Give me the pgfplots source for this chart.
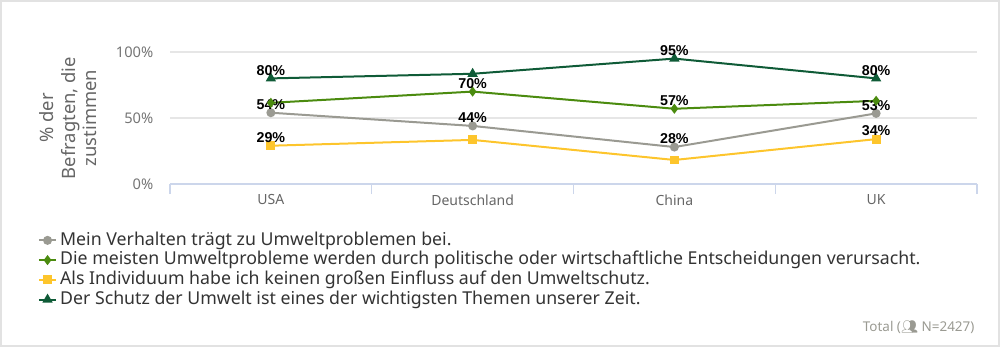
\documentclass[border=0pt]{standalone}
\usepackage{pgfplots}
\pgfplotsset{compat=1.18}
\usepackage{fontspec}
\setmainfont{Noto Sans}
\newfontfamily\emoji{Noto Emoji}
\newfontfamily\labfont{Liberation Sans}
\definecolor{cgray}{HTML}{9A9A92}
\definecolor{clgreen}{HTML}{4B8B0F}
\definecolor{cyellow}{HTML}{FDC52C}
\definecolor{cdgreen}{HTML}{0F5B37}
\definecolor{txtgray}{HTML}{666666}
\definecolor{axisc}{HTML}{CCD6EB}
\definecolor{gridc}{HTML}{E6E6E6}
\definecolor{framec}{HTML}{E2E2E2}
\begin{document}
\begin{tikzpicture}
\useasboundingbox (0,0) rectangle (750pt,260.25pt);
\draw[framec, line width=1.5pt] (0.75pt,0.75pt) rectangle (749.25pt,259.5pt);
\begin{axis}[
  at={(127.5pt,122.25pt)}, anchor=south west,
  scale only axis, width=605.25pt, height=99pt,
  xmin=-0.5, xmax=3.5, ymin=0, ymax=100,
  axis x line*=bottom, axis y line*=left,
  x axis line style={draw=axisc, line width=0.8pt, -},
  y axis line style={draw=none},
  xtick={0,1,2,3}, xticklabels={USA,Deutschland,China,UK},
  major tick length=0pt,
  extra x ticks={-0.5,0.5,1.5,2.5,3.5}, extra x tick labels={},
  extra x tick style={major tick length=7.5pt, tick align=outside, tick style={draw=axisc, line width=0.8pt}, grid=none},
  xticklabel style={font=\fontsize{10.5}{12}\selectfont, text=txtgray},
  xticklabel shift=4.5pt,
  ytick={0,50,100}, yticklabels={0\%,50\%,100\%},
  yticklabel style={font=\fontsize{11}{13}\selectfont, text=txtgray!90},
  yticklabel shift=9pt,
  ytick style={draw=none},
  ymajorgrids, grid style={draw=gridc, line width=0.8pt},
  ylabel={\% der\\Befragten, die\\zustimmen},
  ylabel style={at={(rel axis cs:-0.126,0.5)}, anchor=center, align=center, font=\fontsize{13.8}{16}\selectfont, text=txtgray},
  clip=false,
  nodes near coords={\pgfplotspointmeta},
  point meta=explicit symbolic,
  every node near coord/.append style={font=\labfont\bfseries\fontsize{10.7}{12}\selectfont, text=black, anchor=south, inner sep=1.5pt},
  legend style={at={(rel axis cs:-0.169,-0.33)}, anchor=north west, draw=none, fill=none,
    font=\fontsize{13.3}{15}\selectfont, text=black!80, row sep=0pt,
    nodes={inner ysep=0.9pt, inner xsep=2.2pt, text height=10pt, text depth=3pt}},
  legend cell align=left,
  legend image code/.code={\draw[mark repeat=2,mark phase=2] plot coordinates {(0pt,0pt) (6.5pt,0pt) (13pt,0pt)};},
]
\addplot[cgray, line width=1.5pt, mark=*, mark size=2.6pt] coordinates {(0,54) [54\%] (1,44) [44\%] (2,28) [28\%] (3,53.5) [53\%]};
\addlegendentry{Mein Verhalten trägt zu Umweltproblemen bei.}
\addplot[clgreen, line width=1.5pt, mark=diamond*, mark size=2.6pt] coordinates {(0,61.5) [] (1,70) [70\%] (2,57) [57\%] (3,63) []};
\addlegendentry{Die meisten Umweltprobleme werden durch politische oder wirtschaftliche Entscheidungen verursacht.}
\addplot[cyellow, line width=1.5pt, mark=square*, mark size=2.6pt] coordinates {(0,29) [29\%] (1,33.4) [] (2,18.2) [] (3,34) [34\%]};
\addlegendentry{Als Individuum habe ich keinen großen Einfluss auf den Umweltschutz.}
\addplot[cdgreen, line width=1.5pt, mark=triangle*, mark size=3pt] coordinates {(0,80) [80\%] (1,83.5) [] (2,95) [95\%] (3,80) [80\%]};
\addlegendentry{Der Schutz der Umwelt ist eines der wichtigsten Themen unserer Zeit.}
\end{axis}
\node[anchor=east, font=\fontsize{10.1}{12}\selectfont, text=cgray, inner sep=0pt] at (731pt,15pt) {Total ({\emoji 👥} N=2427)};
\end{tikzpicture}
\end{document}
